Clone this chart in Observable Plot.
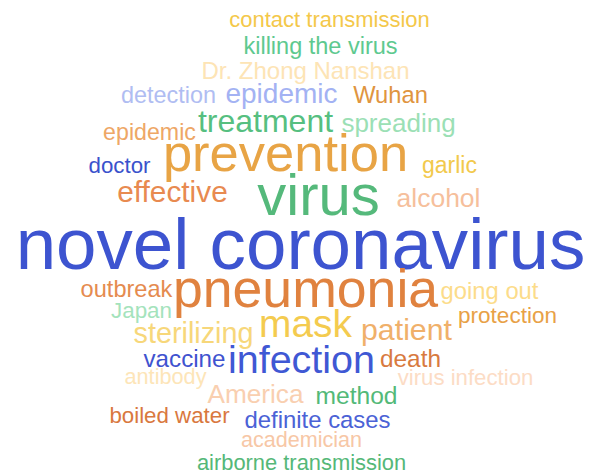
<!DOCTYPE html>
<html>
<head>
<meta charset="utf-8">
<script src="https://cdn.jsdelivr.net/npm/d3@7"></script>
<script src="https://cdn.jsdelivr.net/npm/@observablehq/plot@0.6"></script>
<style>
  html, body { margin: 0; padding: 0; background: #fff; }
  #chart svg { display: block; }
</style>
</head>
<body>
<div id="chart"></div>
<script>
const words = ["contact transmission","killing the virus","Dr. Zhong Nanshan","detection","epidemic","Wuhan","treatment","spreading","epidemic","prevention","doctor","garlic","effective","virus","alcohol","novel coronavirus","outbreak","pneumonia","going out","Japan","protection","sterilizing","mask","patient","vaccine","infection","death","antibody","virus infection","America","method","boiled water","definite cases","academician","airborne transmission"];
const weights = [22,23.5,24,23.4,28,23.7,32,26,23.2,52.5,22.3,23,29.8,58,26.5,72.7,23.6,53.6,23.8,22.4,22.5,28.8,38.9,30.3,24.2,39.5,24.4,21.7,22.2,26.2,24.6,22.3,23.9,21.6,21.9];
const cloudX = [329,320,305,168,281,390,265,398,149,285,119,449,172,318,438,300,126,305,489,141,507,193,305,406,184,301,410,165,465,255,356,169,317,301,301];
const cloudY = [26,53,78,102,102,102,131,131,139,170,172,172,201,214,206,268,296,306,298,317,322,342,336,339,366,372,366,383,384,402,403,422,427,446,469];
const palette = ["#f4c84a","#5ec98f","#fde4b5","#b0bdf2","#a3b2f3","#e0953f","#56bf80","#9be0b5","#eea766","#e8a445","#3a52cc","#f2c94c","#e88a50","#55b97b","#f6bf9c","#3d54d0","#e58b4f","#e0823f","#fcdc8a","#a4e3bc","#e8a146","#f7d77a","#f4cb4f","#f0b06a","#3f53cf","#3f58d4","#d87a3f","#fde5b8","#fcdcc5","#f9cfb0","#53b978","#d9783e","#4b62d6","#f7c7a6","#55b878"];

const data = words.map((w, i) => ({word: w, weight: weights[i], x: cloudX[i], y: cloudY[i], color: palette[i]}));

const chart = Plot.plot({
  width: 598,
  height: 475,
  margin: 0,
  x: {domain: [0, 598], range: [0, 598], axis: null},
  y: {domain: [0, 475], range: [0, 475], axis: null},
  color: {type: "identity"},
  style: {background: "#fff"},
  marks: [
    Plot.text(data, {
      x: "x", y: "y", text: "word",
      fontSize: "weight",
      fill: "color",
      textAnchor: "middle",
      lineAnchor: "bottom",
      fontFamily: "Liberation Sans, Arial, sans-serif"
    })
  ]
});
document.getElementById("chart").appendChild(chart);
</script>
</body>
</html>
